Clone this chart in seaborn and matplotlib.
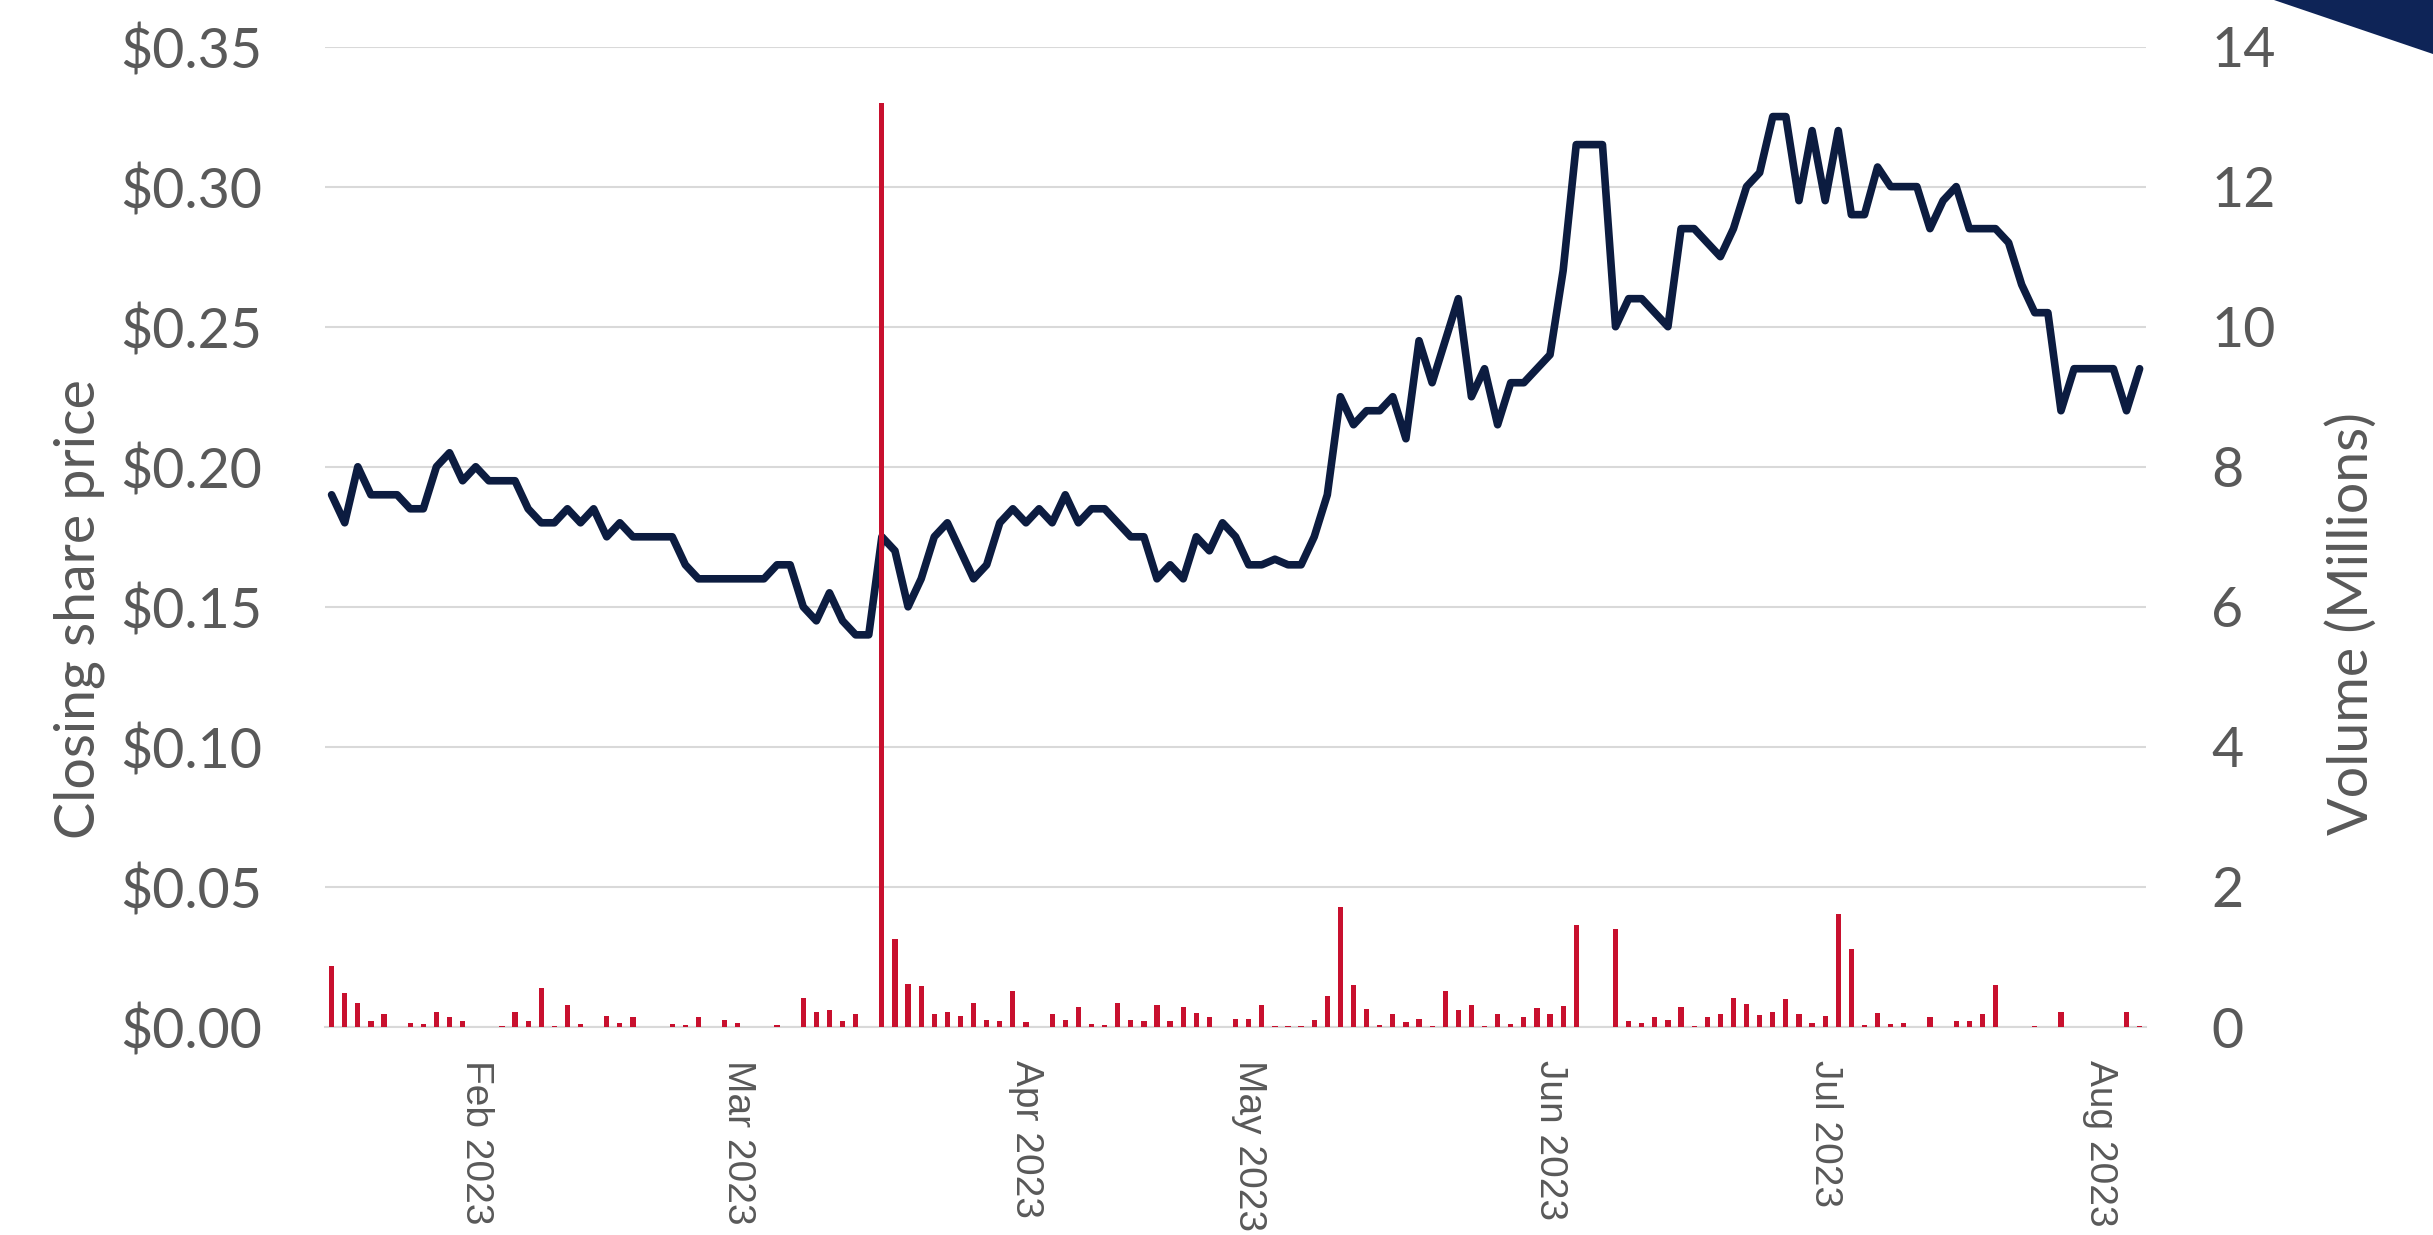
import numpy as np
import pandas as pd
import matplotlib
matplotlib.use("Agg")
import matplotlib.pyplot as plt
import seaborn as sns
from matplotlib.patches import Polygon
from matplotlib.ticker import FuncFormatter

# Торговые дни ASX (праздники + один день приостановки торгов в марте)
holidays = ["2023-01-26", "2023-03-16", "2023-04-07", "2023-04-10",
            "2023-04-25", "2023-06-12"]
dates = pd.bdate_range("2023-01-16", "2023-08-04", freq="C", holidays=holidays)

# Цена закрытия ($)
price = [
    0.19, 0.18, 0.20, 0.19, 0.19, 0.19, 0.185, 0.185, 0.20, 0.205,
    0.195, 0.20, 0.195, 0.195, 0.195, 0.185, 0.18, 0.18, 0.185, 0.18,
    0.185, 0.175, 0.18, 0.175, 0.175, 0.175, 0.175, 0.165, 0.16, 0.16,
    0.16, 0.16, 0.16, 0.16, 0.165, 0.165, 0.15, 0.145, 0.155, 0.145,
    0.14, 0.14, 0.175, 0.17, 0.15, 0.16, 0.175, 0.18, 0.17, 0.16,
    0.165, 0.18, 0.185, 0.18, 0.185, 0.18, 0.19, 0.18, 0.185, 0.185,
    0.18, 0.175, 0.175, 0.16, 0.165, 0.16, 0.175, 0.17, 0.18, 0.175,
    0.165, 0.165, 0.167, 0.165, 0.165, 0.175, 0.19, 0.225, 0.215, 0.22,
    0.22, 0.225, 0.21, 0.245, 0.23, 0.245, 0.26, 0.225, 0.235, 0.215,
    0.23, 0.23, 0.235, 0.24, 0.27, 0.315, 0.315, 0.315, 0.25, 0.26,
    0.26, 0.255, 0.25, 0.285, 0.285, 0.28, 0.275, 0.285, 0.30, 0.305,
    0.325, 0.325, 0.295, 0.32, 0.295, 0.32, 0.29, 0.29, 0.307, 0.30,
    0.30, 0.30, 0.285, 0.295, 0.30, 0.285, 0.285, 0.285, 0.28, 0.265,
    0.255, 0.255, 0.22, 0.235, 0.235, 0.235, 0.235, 0.22, 0.235,
]

# Объём торгов (млн)
volume = [
    0.87, 0.49, 0.35, 0.08, 0.19, 0.005, 0.06, 0.05, 0.22, 0.15,
    0.09, 0.0, 0.005, 0.02, 0.21, 0.09, 0.56, 0.015, 0.32, 0.05,
    0.0, 0.16, 0.06, 0.15, 0.004, 0.004, 0.04, 0.03, 0.15, 0.0,
    0.10, 0.06, 0.0, 0.0, 0.03, 0.005, 0.41, 0.22, 0.25, 0.08,
    0.18, 0.0, 13.2, 1.26, 0.62, 0.58, 0.18, 0.22, 0.16, 0.34,
    0.10, 0.09, 0.52, 0.07, 0.005, 0.19, 0.10, 0.29, 0.05, 0.03,
    0.34, 0.10, 0.09, 0.31, 0.09, 0.28, 0.20, 0.14, 0.0, 0.12,
    0.12, 0.31, 0.02, 0.02, 0.02, 0.10, 0.44, 1.72, 0.60, 0.26,
    0.03, 0.18, 0.07, 0.12, 0.02, 0.52, 0.25, 0.31, 0.02, 0.18,
    0.05, 0.15, 0.27, 0.18, 0.30, 1.46, 0.0, 0.0, 1.40, 0.09,
    0.06, 0.14, 0.10, 0.28, 0.02, 0.15, 0.19, 0.41, 0.33, 0.17,
    0.22, 0.40, 0.19, 0.06, 0.16, 1.62, 1.11, 0.03, 0.20, 0.04,
    0.06, 0.0, 0.15, 0.0, 0.09, 0.08, 0.19, 0.60, 0.005, 0.005,
    0.02, 0.005, 0.22, 0.0, 0.0, 0.0, 0.005, 0.22, 0.02,
]

df = pd.DataFrame({"day": np.arange(len(dates)), "date": dates,
                   "price": price, "volume": volume})

NAVY = "#0c1c40"
RED = "#c8102e"
GREY = "#595959"
GRID = "#d9d9d9"

sns.set_theme(style="white")
plt.rcParams["font.family"] = ["Lato", "DejaVu Sans"]

fig = plt.figure(figsize=(24.33, 12.35), dpi=100)
ax = fig.add_axes([0.1336, 0.1684, 0.7485, 0.7939])
ax2 = ax.twinx()

sns.lineplot(data=df, x="day", y="price", ax=ax, color=NAVY, linewidth=5.5)
sns.barplot(data=df, x="day", y="volume", ax=ax2, color=RED, width=0.4,
            linewidth=0, saturation=1, errorbar=None)

n = len(df)
ax.set_xlim(-0.5, n - 0.5)
ax.set_ylim(0, 0.35)
ax2.set_ylim(0, 14)

ax.set_yticks(np.arange(0, 0.351, 0.05))
ax.yaxis.set_major_formatter(FuncFormatter(lambda v, p: f"${v:.2f}"))
ax2.set_yticks(np.arange(0, 15, 2))

# подписи месяцев — первый торговый день месяца
month_start = df.groupby(df["date"].dt.to_period("M"))["day"].min()
month_start = month_start[month_start > 0]
month_labels = [d.strftime("%b %Y") for d in df.loc[month_start.values, "date"]]
ax.set_xticks(month_start.values)
ax.set_xticklabels(month_labels, rotation=270, fontfamily="Liberation Sans",
                   fontsize=28, color=GREY)
ax.set_xticks(np.arange(-0.5, n, 1), minor=True)
ax.tick_params(axis="x", which="major", length=0, pad=24)
ax.tick_params(axis="x", which="minor", length=10.8, width=1.3, color=GRID)

ax.tick_params(axis="y", which="both", length=0, labelsize=40, labelcolor=GREY, pad=45)
ax2.tick_params(axis="y", which="both", length=0, labelsize=40, labelcolor=GREY, pad=47)

ax.yaxis.grid(True, color=GRID, linewidth=1.5)
ax.xaxis.grid(False)
ax2.grid(False)
ax.set_axisbelow(True)

for a in (ax, ax2):
    for s in ("top", "left", "right"):
        a.spines[s].set_visible(False)
    a.spines["bottom"].set_color(GRID)
    a.spines["bottom"].set_linewidth(1.5)
ax2.spines["bottom"].set_visible(False)

ax.set_xlabel("")
ax2.set_xlabel("")
ax.set_ylabel("Closing share price", fontsize=40, color=GREY)
ax.yaxis.set_label_coords(-0.121, 0.426)
ax2.set_ylabel("Volume (Millions)", fontsize=40, color=GREY)
ax2.yaxis.set_label_coords(1.0987, 0.412)

# тёмный треугольник в правом верхнем углу
fig.patches.append(Polygon([[2274 / 2433, 1], [1, 1], [1, 1 - 54 / 1235]],
                           closed=True, transform=fig.transFigure,
                           facecolor="#0e2457", edgecolor="none"))

fig.savefig("out.png", dpi=100)
